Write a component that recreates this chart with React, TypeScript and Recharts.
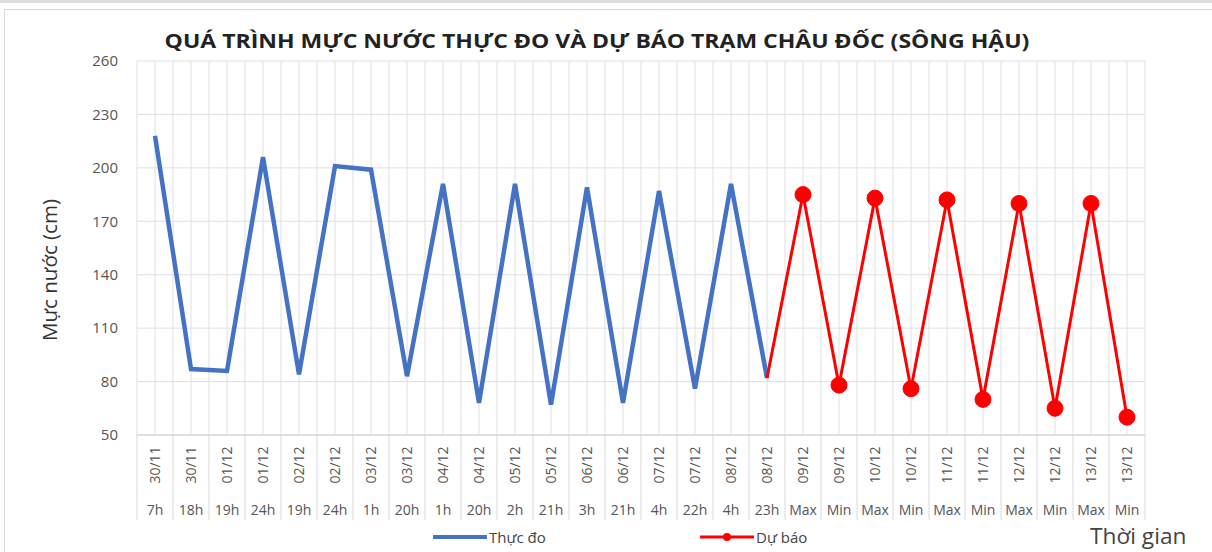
import { ComposedChart, Line, XAxis, YAxis, CartesianGrid, Legend } from 'recharts'

const dates = [
  '30/11', '30/11', '01/12', '01/12', '02/12', '02/12', '03/12', '03/12', '04/12', '04/12',
  '05/12', '05/12', '06/12', '06/12', '07/12', '07/12', '08/12', '08/12', '09/12', '09/12',
  '10/12', '10/12', '11/12', '11/12', '12/12', '12/12', '13/12', '13/12',
]
const hours = [
  '7h', '18h', '19h', '24h', '19h', '24h', '1h', '20h', '1h', '20h',
  '2h', '21h', '3h', '21h', '4h', '22h', '4h', '23h', 'Max', 'Min',
  'Max', 'Min', 'Max', 'Min', 'Max', 'Min', 'Max', 'Min',
]
const observed: (number | null)[] = [
  218, 87, 86, 206, 84, 201, 199, 83, 191, 68,
  191, 67, 189, 68, 187, 76, 191, 82, null, null,
  null, null, null, null, null, null, null, null,
]
const forecast: (number | null)[] = [
  null, null, null, null, null, null, null, null, null, null,
  null, null, null, null, null, null, null, 82, 185, 78,
  183, 76, 182, 70, 180, 65, 180, 60,
]
const yTicks = [50, 80, 110, 140, 170, 200, 230, 260]

const data = dates.map((d, i) => ({
  key: `${d} ${hours[i]}`,
  date: d,
  hour: hours[i],
  'Thực đo': observed[i],
  'Dự báo': forecast[i],
}))

const W = 1208
const H = 542
const FONT = '"Open Sans", "DejaVu Sans", sans-serif'

function CategoryTick(props: any) {
  const { x, y, index, width } = props
  const band = width / data.length
  const top = y - 8
  const item = data[index]
  const isLast = index === data.length - 1
  return (
    <g>
      <line x1={x - band / 2} x2={x - band / 2} y1={top} y2={top + 85} stroke="#d9d9d9" />
      {isLast && <line x1={x + band / 2} x2={x + band / 2} y1={top} y2={top + 85} stroke="#d9d9d9" />}
      <text
        x={0}
        y={0}
        transform={`translate(${x + 5},${top + 30}) rotate(-90)`}
        textAnchor="middle"
        fontSize={14}
        fill="#555"
        fontFamily={FONT}
      >
        {item.date}
      </text>
      <text x={x} y={top + 80} textAnchor="middle" fontSize={14} fill="#555" fontFamily={FONT}>
        {item.hour}
      </text>
    </g>
  )
}

function ForecastDot(props: any) {
  const { cx, cy, index, value } = props
  if (value == null || index === 17) return null
  return <circle key={index} cx={cx} cy={cy} r={8} fill="#ff0000" stroke="#ff0000" />
}

function LegendContent() {
  return (
    <div style={{ position: 'relative', width: W, height: 25, fontFamily: FONT, fontSize: 15, color: '#444' }}>
      <div style={{ position: 'absolute', left: 429, top: 2, display: 'flex', alignItems: 'center' }}>
        <svg width={56} height={16}>
          <line x1={0} x2={54} y1={8} y2={8} stroke="#4472c4" strokeWidth={4} />
        </svg>
        <span>Thực đo</span>
      </div>
      <div style={{ position: 'absolute', left: 696, top: 2, display: 'flex', alignItems: 'center' }}>
        <svg width={56} height={16}>
          <line x1={0} x2={54} y1={8} y2={8} stroke="#ff0000" strokeWidth={3} />
          <circle cx={27} cy={8} r={4} fill="#ff0000" />
        </svg>
        <span>Dự báo</span>
      </div>
    </div>
  )
}

export default function App() {
  return (
    <div style={{ position: 'relative', width: 1212, height: 552, background: '#fff', overflow: 'hidden' }}>
      <style>{'body{margin:0}'}</style>
      <div style={{ position: 'absolute', left: 0, top: 0, width: 1212, height: 3, background: '#dcdcdc' }} />
      <div
        style={{
          position: 'absolute',
          left: 4,
          top: 9,
          width: W + 10,
          height: H + 10,
          borderTop: '1px solid #d9d9d9',
          borderLeft: '1px solid #d9d9d9',
        }}
      />
      <div
        style={{
          position: 'absolute',
          left: 597 - 600,
          top: 27,
          width: 1200,
          textAlign: 'center',
          fontFamily: FONT,
          fontWeight: 700,
          fontSize: 19.5,
          color: '#222',
          transform: 'scaleX(1.18)',
          whiteSpace: 'nowrap',
        }}
      >
        QUÁ TRÌNH MỰC NƯỚC THỰC ĐO VÀ DỰ BÁO TRẠM CHÂU ĐỐC (SÔNG HẬU)
      </div>
      <div
        style={{
          position: 'absolute',
          left: 1090,
          top: 522,
          fontFamily: FONT,
          fontSize: 21,
          color: '#444',
          transform: 'scaleX(1.08)',
          transformOrigin: 'left center',
          whiteSpace: 'nowrap',
        }}
      >
        Thời gian
      </div>
      <div style={{ position: 'absolute', left: 4, top: 10 }}>
        <ComposedChart width={W} height={H} data={data} margin={{ top: 51, right: 67, bottom: 2, left: 0 }}>
          <CartesianGrid
            stroke="#e0e0e0"
            verticalCoordinatesGenerator={({ offset }: any) => {
              const band = offset.width / data.length
              const pts: number[] = []
              for (let i = 0; i <= data.length * 2; i++) pts.push(offset.left + (i * band) / 2)
              return pts
            }}
          />
          <XAxis
            dataKey="key"
            scale="band"
            interval={0}
            height={90}
            tickLine={false}
            axisLine={{ stroke: '#d0d0d0' }}
            tick={<CategoryTick />}
          />
          <YAxis
            domain={[50, 260]}
            ticks={yTicks}
            width={133}
            tickLine={false}
            axisLine={false}
            tickSize={0}
            tickMargin={19}
            tick={{ fontSize: 15, fill: '#555', fontFamily: FONT }}
            label={{
              content: ({ viewBox }: any) => (
                <text
                  transform={`translate(${viewBox.x + 48},${viewBox.y + viewBox.height / 2 + 22}) rotate(-90)`}
                  textAnchor="middle"
                  dominantBaseline="middle"
                  fontSize={20.5}
                  fill="#333"
                  fontFamily={FONT}
                >
                  Mực nước (cm)
                </text>
              ),
            }}
          />
          <Legend verticalAlign="bottom" height={25} wrapperStyle={{ left: 0, width: W }} content={<LegendContent />} />
          <Line
            dataKey="Thực đo"
            stroke="#4472c4"
            strokeWidth={4.5}
            dot={false}
            connectNulls={false}
            isAnimationActive={false}
          />
          <Line
            dataKey="Dự báo"
            stroke="#ff0000"
            strokeWidth={3}
            dot={<ForecastDot />}
            activeDot={false}
            isAnimationActive={false}
          />
        </ComposedChart>
      </div>
    </div>
  )
}
